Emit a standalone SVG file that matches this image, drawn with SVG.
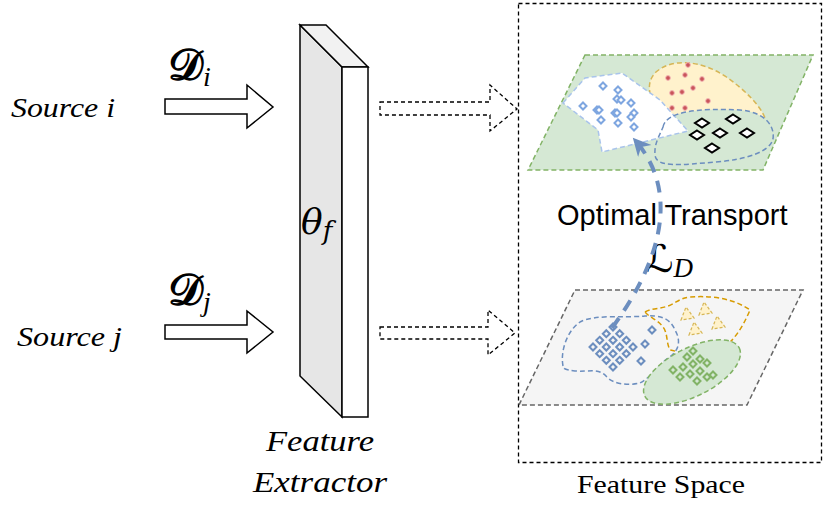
<svg xmlns="http://www.w3.org/2000/svg" xmlns:xlink="http://www.w3.org/1999/xlink" width="830" height="506" viewBox="0 0 830 506">
<style>
.it{font-family:"Liberation Serif","DejaVu Serif",serif;font-style:italic;fill:#000}
.rm{font-family:"Liberation Serif","DejaVu Serif",serif;fill:#000}
.ss{font-family:"Liberation Sans",Arial,sans-serif;fill:#000}
.math{font-family:"DejaVu Serif","DejaVu Sans",serif;fill:#000}
.blk{fill:#fff;stroke:#000;stroke-width:1.5;stroke-linejoin:miter}
.dsh{fill:#fff;stroke:#000;stroke-width:1.3;stroke-dasharray:4 3}
.bd{fill:#fff;stroke:#7ea6e0;stroke-width:2}
.bd2{fill:none;stroke:#6c8ebf;stroke-width:2}
.gd{fill:none;stroke:#82b366;stroke-width:2}
.kd{fill:#fff;stroke:#000;stroke-width:2}
.rd{fill:#c9545a;stroke:#f4b8b6;stroke-width:1}
.tri{fill:#fff2cc;stroke:#d6b656;stroke-width:1.2;stroke-dasharray:3 2}
</style>
<defs>
<path id="dia" d="M0,-3.5 L3.5,0 L0,3.5 L-3.5,0Z"/>
<path id="kdia" d="M0,-4.5 L7,0 L0,4.5 L-7,0Z"/>
<path id="tr" d="M-6,6 L-1,-7 L7,4Z"/>
<marker id="ah" viewBox="0 0 10 10" refX="9" refY="5" markerWidth="5.5" markerHeight="4.5" orient="auto" markerUnits="strokeWidth">
<path d="M0,0 L10,5 L0,10 L3,5Z" fill="#6c8ebf"/>
</marker>
</defs>

<g id="source-i">
<text class="it" x="11" y="117" font-size="28" textLength="104" lengthAdjust="spacingAndGlyphs">Source i</text>
</g>
<g id="source-j">
<text class="it" x="17" y="346" font-size="28" textLength="105" lengthAdjust="spacingAndGlyphs">Source j</text>
</g>

<g id="extractor">
<polygon points="300,25 342,67 342,417 300,376" fill="#e6e6e6" stroke="#000" stroke-width="1.5"/>
<polygon points="300,25 326,25 368,67 342,67" fill="#f2f2f2" stroke="#000" stroke-width="1.5"/>
<rect x="342" y="67" width="26" height="350" fill="#fff" stroke="#000" stroke-width="1.5"/>
<text x="301" y="234" font-size="36" font-family="'DejaVu Serif',serif" font-style="italic">θ<tspan font-size="26" dy="6">f</tspan></text>
<text class="it" x="320" y="451" font-size="30" text-anchor="middle" textLength="108" lengthAdjust="spacingAndGlyphs">Feature</text>
<text class="it" x="320" y="492" font-size="30" text-anchor="middle" textLength="134" lengthAdjust="spacingAndGlyphs">Extractor</text>
</g>

<g id="feature-space">
<rect x="518.5" y="3.5" width="303" height="459" fill="none" stroke="#000" stroke-width="1.3" stroke-dasharray="4 3"/>
<text class="rm" x="661" y="493" font-size="25" text-anchor="middle" textLength="168" lengthAdjust="spacingAndGlyphs">Feature Space</text>
</g>

<g id="source-plane">
<polygon points="585,55 813,55 763,170 528,170" fill="#d5e8d4" stroke="#82b366" stroke-width="1.5" stroke-dasharray="5 3"/>
<path d="M679,133 C655,112 640,88 656,72 C672,58 700,60 725,76 C745,90 760,105 765,118 Z" fill="#fff2cc" stroke="#d6b656" stroke-width="1.5" stroke-dasharray="5 3"/>
<path d="M663,127 C666,111 700,108 740,110 C764,112 775,125 773,139 C770,152 745,160 715,162 C682,165 656,168 655,155 C654,143 660,135 663,127 Z" fill="#d5e8d4"/>
<polygon points="563,103 585,78 622,73 660,100 688,131 602,152 598,130" fill="#fff" stroke="#a9c4eb" stroke-width="1.5" stroke-dasharray="5 3"/>
<path d="M663,127 C666,111 700,108 740,110 C764,112 775,125 773,139 C770,152 745,160 715,162 C682,165 656,168 655,155 C654,143 660,135 663,127 Z" fill="none" stroke="#6c8ebf" stroke-width="1.5" stroke-dasharray="5 3"/>
<g class="rd">
<circle cx="688" cy="65" r="2.4"/><circle cx="668" cy="78" r="2.4"/><circle cx="685" cy="75" r="2.4"/>
<circle cx="702" cy="79" r="2.4"/><circle cx="672" cy="93" r="2.4"/><circle cx="682" cy="92" r="2.4"/>
<circle cx="693" cy="88" r="2.4"/><circle cx="708" cy="101" r="2.4"/><circle cx="672" cy="108" r="2.4"/>
<circle cx="685" cy="108" r="2.4"/>
</g>
<g class="bd">
<use xlink:href="#dia" x="603" y="86"/><use xlink:href="#dia" x="618" y="90"/><use xlink:href="#dia" x="617" y="99"/>
<use xlink:href="#dia" x="621" y="100"/><use xlink:href="#dia" x="631" y="103"/><use xlink:href="#dia" x="583" y="106"/>
<use xlink:href="#dia" x="597" y="110"/><use xlink:href="#dia" x="599" y="110"/><use xlink:href="#dia" x="615" y="113"/>
<use xlink:href="#dia" x="617" y="113"/><use xlink:href="#dia" x="634" y="113"/><use xlink:href="#dia" x="631" y="117"/>
<use xlink:href="#dia" x="601" y="120"/><use xlink:href="#dia" x="618" y="123"/><use xlink:href="#dia" x="634" y="127"/>
</g>
<g class="kd">
<use xlink:href="#kdia" x="702" y="123"/><use xlink:href="#kdia" x="733" y="119"/><use xlink:href="#kdia" x="697" y="135"/>
<use xlink:href="#kdia" x="720" y="133"/><use xlink:href="#kdia" x="747" y="133"/><use xlink:href="#kdia" x="712" y="148"/>
</g>
</g>

<g id="target-plane">
<polygon points="575,290 803,290 747,405 519,405" fill="#f5f5f5" stroke="#666" stroke-width="1.5" stroke-dasharray="5 3"/>
<path d="M563,366 C560,350 568,330 580,322 C595,314 625,318 645,316 C660,315 670,318 675,330 C682,342 678,352 668,358 C658,366 650,378 640,383 C628,386 612,384 606,376 C598,368 590,372 575,371 C566,370 563,369 563,366 Z" fill="none" stroke="#6c8ebf" stroke-width="1.5" stroke-dasharray="5 3"/>
<path d="M645,312 C652,308 660,309 668,306 C676,303 680,298 690,297 C705,296 730,296 750,310 C745,322 738,335 728,344 C718,352 708,357 700,357 C690,355 680,352 670,350 C666,343 668,333 663,327 C658,320 650,318 645,312 Z" fill="none" stroke="#d79b00" stroke-width="1.5" stroke-dasharray="5 3"/>
<g class="tri">
<use xlink:href="#tr" x="687" y="314"/><use xlink:href="#tr" x="705" y="309"/>
<use xlink:href="#tr" x="695" y="329"/><use xlink:href="#tr" x="718" y="323"/>
</g>
<ellipse cx="692" cy="372" rx="53" ry="24" transform="rotate(-27 692 372)" fill="#d5e8d4" stroke="#82b366" stroke-width="1.5" stroke-dasharray="5 3"/>
<g class="bd2">
<use xlink:href="#dia" x="613" y="327"/><use xlink:href="#dia" x="619.7" y="333.7"/><use xlink:href="#dia" x="626.3" y="340.3"/><use xlink:href="#dia" x="633" y="347"/>
<use xlink:href="#dia" x="606.3" y="333.7"/><use xlink:href="#dia" x="613" y="340.3"/><use xlink:href="#dia" x="619.7" y="347"/><use xlink:href="#dia" x="626.3" y="353.7"/>
<use xlink:href="#dia" x="599.7" y="340.3"/><use xlink:href="#dia" x="606.3" y="347"/><use xlink:href="#dia" x="613" y="353.7"/><use xlink:href="#dia" x="619.7" y="360.3"/>
<use xlink:href="#dia" x="593" y="347"/><use xlink:href="#dia" x="599.7" y="353.7"/><use xlink:href="#dia" x="606.3" y="360.3"/><use xlink:href="#dia" x="613" y="367"/>
<use xlink:href="#dia" x="652" y="330"/><use xlink:href="#dia" x="645" y="344"/><use xlink:href="#dia" x="641" y="361"/>
</g>
<g class="gd">
<use xlink:href="#dia" x="693" y="351"/><use xlink:href="#dia" x="687" y="357"/><use xlink:href="#dia" x="700" y="359"/>
<use xlink:href="#dia" x="673" y="370"/><use xlink:href="#dia" x="683" y="367"/><use xlink:href="#dia" x="693" y="364"/>
<use xlink:href="#dia" x="707" y="363"/><use xlink:href="#dia" x="680" y="377"/><use xlink:href="#dia" x="690" y="374"/>
<use xlink:href="#dia" x="700" y="371"/><use xlink:href="#dia" x="713" y="375"/><use xlink:href="#dia" x="707" y="377"/>
<use xlink:href="#dia" x="697" y="381"/>
</g>
</g>

<g id="ot-label">
<text class="ss" x="557" y="225" font-size="29">Optimal Transport</text>
<text class="math" x="646" y="272" font-size="38">ℒ<tspan class="it" font-size="27" dy="5">D</tspan></text>
</g>

<g id="connectors">
<path class="blk" d="M165,99 H247 V85 L273,107 L247,128 V114 H165 Z"/>
<path class="blk" d="M165,325 H247 V311 L273,332 L247,353 V339 H165 Z"/>
<path class="dsh" d="M380,102 H490 V85 L517,109 L490,131 V115 H380 Z"/>
<path class="dsh" d="M380,327 H488 V310 L515,333 L488,355 V339 H380 Z"/>
<path d="M612,328 C656,268 684,195 634,139" fill="none" stroke="#6c8ebf" stroke-width="4" stroke-dasharray="12 9" marker-end="url(#ah)"/>
<text class="math" x="168" y="80" font-size="44" font-weight="bold">𝒟<tspan class="it" font-size="28" font-weight="normal" dy="6">i</tspan></text>
<text class="math" x="168" y="305" font-size="44" font-weight="bold">𝒟<tspan class="it" font-size="28" font-weight="normal" dy="6">j</tspan></text>
</g>
</svg>
